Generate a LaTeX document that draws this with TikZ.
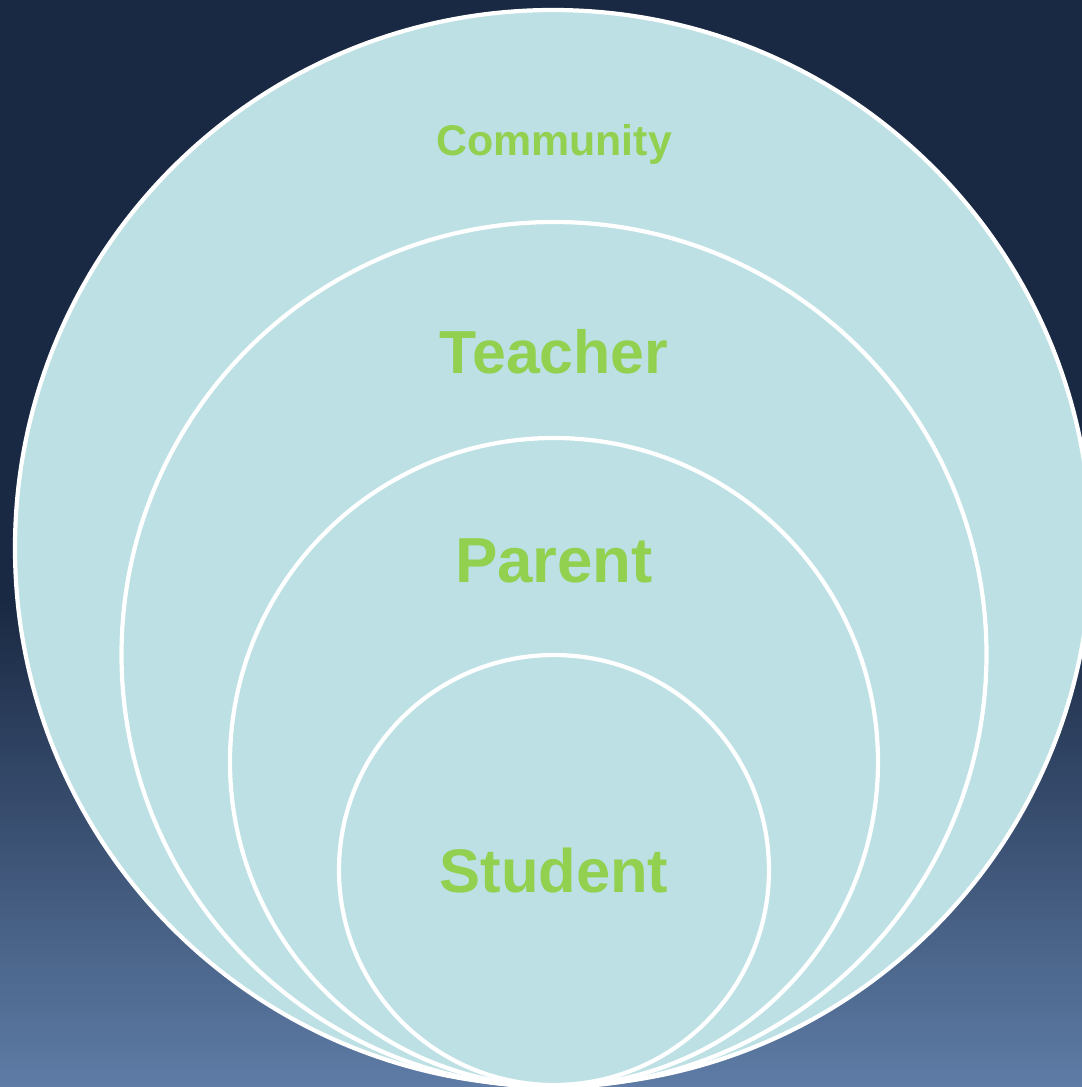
\documentclass[tikz,border=0pt]{standalone}
\usepackage{fontspec}
\setmainfont{Liberation Sans}
\usepackage{tikz}
\usetikzlibrary{positioning}

\definecolor{navy}{HTML}{1A2943}
\definecolor{dusk}{HTML}{5E7CA6}
\definecolor{ringfill}{HTML}{BCE0E4}
\definecolor{tagGreen}{HTML}{92D050}

\newcommand{\tagsize}[1]{\bfseries\fontsize{#1}{#1}\selectfont}

\tikzset{
  ring/.style={draw=white,line width=1.2pt,fill=ringfill},
  tag/.style={text=tagGreen,anchor=base,inner sep=0pt},
}

\begin{document}
\begin{tikzpicture}[x=1cm,y=1cm]
      \useasboundingbox (0,0) rectangle (10.82,10.87);
      \clip (0,0) rectangle (10.82,10.87);

      % backdrop: flat navy on top, fading to blue below
      \fill[navy] (0,4.8) rectangle (10.82,10.87);
      \shade[top color=navy,bottom color=dusk] (0,0) rectangle (10.82,4.85);

      % nested rings, all touching at the bottom
      \draw[ring] (5.53,5.39) circle (5.38);
      \draw[ring] (5.54,4.325) circle (4.325);
      \draw[ring] (5.54,3.25) circle (3.24);
      \draw[ring] (5.54,2.17) circle (2.15);

      \node[tag,font=\tagsize{12.2}] (community) at (5.54,9.31) {Community};
      \node[tag,font=\tagsize{17.3}] (teacher) at (5.54,7.14) {Teacher};
      \node[tag,font=\tagsize{18.1}] (parent) at (5.54,5.05) {Parent};
      \node[tag,font=\tagsize{17.5}] (student) at (5.54,1.94) {Student};
  \end{tikzpicture}
\end{document}
